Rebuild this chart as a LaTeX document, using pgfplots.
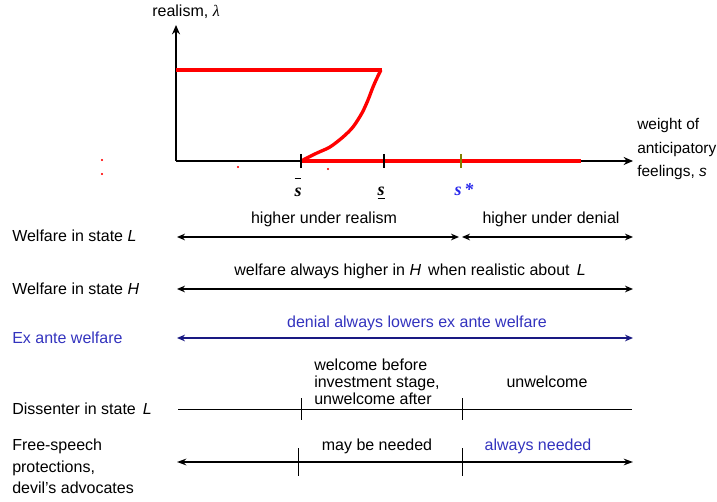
\documentclass[border=0pt]{standalone}
\usepackage{pgfplots}
\pgfplotsset{compat=1.18}
\usepackage{fontspec}
\setmainfont{Liberation Sans}
\newfontfamily\serif{Liberation Serif}
\usetikzlibrary{arrows.meta}
\definecolor{myblue}{RGB}{51,51,190}
\definecolor{sblue}{RGB}{40,40,235}
\definecolor{mynavy}{RGB}{25,25,130}
\definecolor{myolive}{RGB}{128,128,0}
\definecolor{myred}{RGB}{255,0,0}
\begin{document}
\begin{tikzpicture}
\tikzset{every node/.append style={font=\fontsize{12}{14}\selectfont, inner sep=0pt}}
\begin{axis}[scale only axis, width=537.75pt, height=376.5pt,
  xmin=0, xmax=717, ymin=0, ymax=502, y dir=reverse, hide axis, clip=false]
% axes
\addplot[black, line width=1.5pt, -{Stealth[length=7pt,width=6pt]}] coordinates {(176,161) (176,25)};
\addplot[black, line width=1.5pt, -{Stealth[length=7pt,width=6pt]}] coordinates {(176,161) (633,161)};
% red curves
\addplot[myred, line width=2.5pt] coordinates {(176,70) (382,70)};
\addplot[myred, line width=2.5pt, smooth] coordinates {(301,161) (317,153) (330,147) (343,137) (353,127) (362,113) (368,100) (373,87) (377,78) (381,70)};
\addplot[myred, line width=2.5pt] coordinates {(301,161) (581,161)};
% ticks
\addplot[black, line width=1.2pt] coordinates {(301,154) (301,168)};
\addplot[black, line width=1.2pt] coordinates {(384,154) (384,168)};
\addplot[myolive, line width=1.2pt] coordinates {(461,154) (461,168)};
% specks
\addplot[only marks, mark=*, mark size=0.5pt, myred] coordinates {(102,160) (102,174) (238,167) (328,169)};
% labels top
\node[anchor=base] at (axis cs:186,17) {realism, {\serif\itshape λ}};
\node[anchor=base] at (axis cs:298,197) {\shortstack{\rule{5pt}{0.8pt}\\[4pt]{\fontsize{13.5}{15}\serif\bfseries\itshape s}}};
\node[anchor=base] at (axis cs:381,196) {\underline{\fontsize{13.5}{15}\serif\bfseries\itshape s}};
\node[anchor=base, text=sblue] at (axis cs:464,196) {\fontsize{13.5}{15}\serif\bfseries\itshape s\,*};
\node[anchor=base west, font=\fontsize{11.6}{14}\selectfont] at (axis cs:637,130) {weight of};
\node[anchor=base west, font=\fontsize{11.6}{14}\selectfont] at (axis cs:637,154) {anticipatory};
\node[anchor=base west, font=\fontsize{11.6}{14}\selectfont] at (axis cs:637,177) {feelings, \textit{s}};
% Welfare L
\node[anchor=base west] at (axis cs:12,242) {Welfare in state \textit{L}};
\addplot[black, line width=1.1pt, {Stealth[length=6pt,width=5pt]}-{Stealth[length=6pt,width=5pt]}] coordinates {(177,237) (459,237)};
\addplot[black, line width=1.1pt, {Stealth[length=6pt,width=5pt]}-{Stealth[length=6pt,width=5pt]}] coordinates {(462,237) (633,237)};
\node[anchor=base] at (axis cs:324,224) {higher under realism};
\node[anchor=base] at (axis cs:551,224) {higher under denial};
% Welfare H
\node[anchor=base west] at (axis cs:12,294) {Welfare in state \textit{H}};
\addplot[black, line width=1.1pt, {Stealth[length=6pt,width=5pt]}-{Stealth[length=6pt,width=5pt]}] coordinates {(177,289) (633,289)};
\node[anchor=base] at (axis cs:410,276) {welfare always higher in \textit{H}\, when realistic about\, \textit{L}};
% Ex ante
\node[anchor=base west, text=myblue] at (axis cs:12,343) {Ex ante welfare};
\addplot[mynavy, line width=1.1pt, {Stealth[length=6pt,width=5pt]}-{Stealth[length=6pt,width=5pt]}] coordinates {(177,338) (633,338)};
\node[anchor=base, text=myblue] at (axis cs:417,327) {denial always lowers ex ante welfare};
% Dissenter
\node[anchor=base west] at (axis cs:12,414) {Dissenter in state\, \textit{L}};
\addplot[black, line width=0.7pt] coordinates {(178,409) (632,409)};
\addplot[black, line width=0.7pt] coordinates {(301,398) (301,420)};
\addplot[black, line width=0.7pt] coordinates {(462,398) (462,420)};
\node[anchor=base west] at (axis cs:314,370) {welcome before};
\node[anchor=base west] at (axis cs:314,387) {investment stage,};
\node[anchor=base west] at (axis cs:314,404) {unwelcome after};
\node[anchor=base] at (axis cs:547,387) {unwelcome};
% Free speech
\node[anchor=base west] at (axis cs:12,450) {Free-speech};
\node[anchor=base west] at (axis cs:12,472) {protections,};
\node[anchor=base west] at (axis cs:12,493) {devil's advocates};
\addplot[black, line width=1.5pt, {Stealth[length=7pt,width=5pt]}-{Stealth[length=7pt,width=5pt]}] coordinates {(177,462) (633,462)};
\addplot[black, line width=0.7pt] coordinates {(298,448) (298,476)};
\addplot[black, line width=0.7pt] coordinates {(462,448) (462,476)};
\node[anchor=base] at (axis cs:377,450) {may be needed};
\node[anchor=base, text=myblue] at (axis cs:538,450) {always needed};
\end{axis}
\pgfresetboundingbox
\path[use as bounding box] (current axis.south west) rectangle (current axis.north east);
\end{tikzpicture}
\end{document}
